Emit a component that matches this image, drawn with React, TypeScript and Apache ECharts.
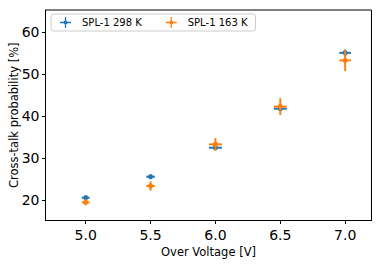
import React, { useEffect, useRef } from "react";
import * as echarts from "echarts";

const voltages = [5.0, 5.5, 6.0, 6.5, 7.0];
const warmValues = [20.5, 25.5, 32.4, 41.7, 55.0];
const warmYErr = [0.4, 0.3, 0.4, 0.5, 0.8];
const warmXErr = [0.03, 0.033, 0.05, 0.05, 0.045];
const coldValues = [19.4, 23.3, 33.2, 42.2, 53.2];
const coldYErr = [0.7, 1.1, 1.5, 2.0, 2.5];
const coldXErr = [0.03, 0.033, 0.05, 0.05, 0.045];
const xTicks = [5.0, 5.5, 6.0, 6.5, 7.0];
const yTicks = [20, 30, 40, 50, 60];
const seriesNames = ["SPL-1 298 K", "SPL-1 163 K"];
const colors = ["#1f77b4", "#ff7f0e"];

const crossIcon =
  "path://M0,5.3 L12,5.3 L12,6.7 L0,6.7 Z M5.3,0 L6.7,0 L6.7,12 L5.3,12 Z M6,3.7 A2.3,2.3 0 1 1 5.99,3.7 Z";

function build(vals: number[], xe: number[], ye: number[]) {
  return voltages.map((v, i) => [v, vals[i], xe[i], ye[i]]);
}

function makeRender(color: string) {
  return (params: any, api: any) => {
    const x = api.value(0);
    const y = api.value(1);
    const xe = api.value(2);
    const ye = api.value(3);
    const c = api.coord([x, y]);
    const l = api.coord([x - xe, y]);
    const r = api.coord([x + xe, y]);
    const t = api.coord([x, y + ye]);
    const b = api.coord([x, y - ye]);
    const st = { stroke: color, lineWidth: 2 };
    return {
      type: "group",
      children: [
        { type: "line", shape: { x1: l[0], y1: l[1], x2: r[0], y2: r[1] }, style: st },
        { type: "line", shape: { x1: t[0], y1: t[1], x2: b[0], y2: b[1] }, style: st },
        { type: "circle", shape: { cx: c[0], cy: c[1], r: 2.6 }, style: { fill: color } },
      ],
    };
  };
}

export default function App() {
  const ref = useRef<HTMLDivElement>(null);
  useEffect(() => {
    if (!ref.current) return;
    const chart = echarts.init(ref.current, undefined, { renderer: "svg" });
    const font = "DejaVu Sans";
    chart.setOption({
      animation: false,
      backgroundColor: "#ffffff",
      grid: {
        left: 45.5,
        right: 10.5,
        top: 10,
        bottom: 43.5,
        show: true,
        borderColor: "#000",
        borderWidth: 1,
        containLabel: false,
        outerBoundsMode: "none",
      },
      legend: {
        left: 51,
        top: 14,
        padding: [3, 8, 3, 9],
        itemWidth: 11,
        itemHeight: 11,
        itemGap: 24,
        borderColor: "#cccccc",
        borderWidth: 1,
        borderRadius: 3,
        backgroundColor: "rgba(255,255,255,0.8)",
        textStyle: { fontFamily: font, fontSize: 10, color: "#000", padding: [0, 0, 0, 6] },
        data: seriesNames.map((n) => ({ name: n, icon: crossIcon })),
      },
      xAxis: {
        type: "value",
        min: 4.69,
        max: 7.203,
        name: "Over Voltage [V]",
        nameLocation: "middle",
        nameGap: 25,
        nameMoveOverlap: false,
        nameTextStyle: { fontFamily: font, fontSize: 11.5, color: "#000" },
        axisLine: { show: true, lineStyle: { color: "#000", width: 1 } },
        axisTick: { show: true, inside: false, length: 3.5, lineStyle: { color: "#000" }, customValues: xTicks },
        axisLabel: {
          fontFamily: font,
          fontSize: 14,
          color: "#000",
          margin: 7,
          customValues: xTicks,
          formatter: (v: number) => v.toFixed(1),
        },
        splitLine: { show: false },
      },
      yAxis: {
        type: "value",
        min: 15.07,
        max: 65.2,
        name: "Cross-talk probability [%]",
        nameLocation: "middle",
        nameGap: 26,
        nameMoveOverlap: false,
        nameTextStyle: { fontFamily: font, fontSize: 11.5, color: "#000" },
        axisLine: { show: true, lineStyle: { color: "#000", width: 1 } },
        axisTick: { show: true, inside: false, length: 3.5, lineStyle: { color: "#000" }, customValues: yTicks },
        axisLabel: {
          fontFamily: font,
          fontSize: 14,
          color: "#000",
          margin: 6,
          customValues: yTicks,
        },
        splitLine: { show: false },
      },
      series: [
        {
          name: seriesNames[0],
          type: "custom",
          itemStyle: { color: colors[0] },
          renderItem: makeRender(colors[0]),
          encode: { x: 0, y: 1 },
          data: build(warmValues, warmXErr, warmYErr),
        },
        {
          name: seriesNames[1],
          type: "custom",
          itemStyle: { color: colors[1] },
          renderItem: makeRender(colors[1]),
          encode: { x: 0, y: 1 },
          data: build(coldValues, coldXErr, coldYErr),
        },
      ],
    });
    return () => chart.dispose();
  }, []);
  return <div ref={ref} style={{ width: 382, height: 264, position: "absolute", left: 0, top: 0 }} />;
}
